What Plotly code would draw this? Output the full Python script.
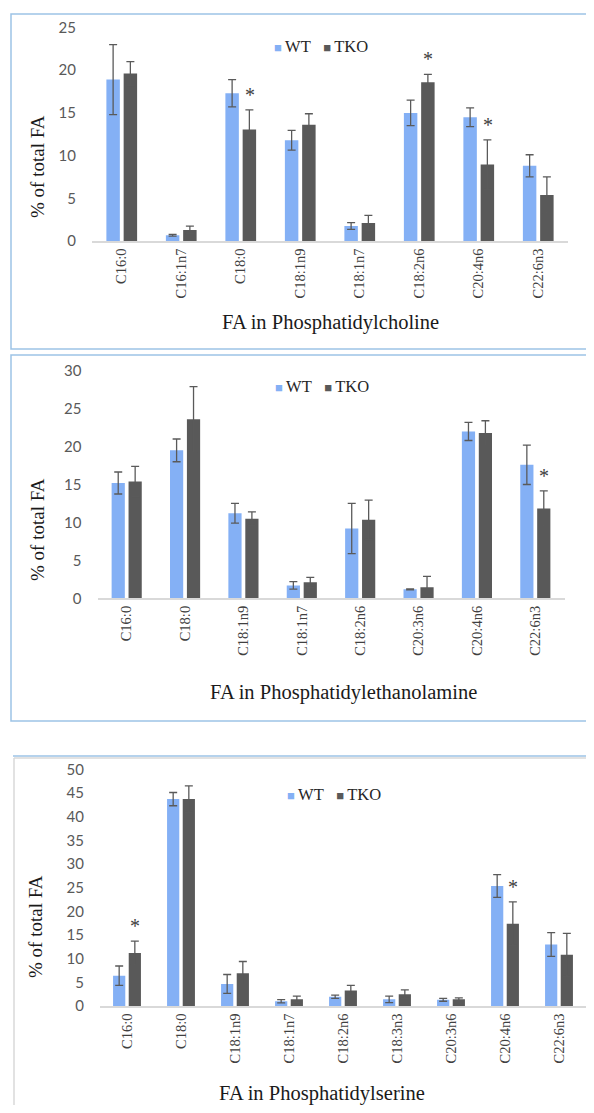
import plotly.graph_objects as go

# ---------------- data ----------------
pc_cats = ["C16:0", "C16:1n7", "C18:0", "C18:1n9", "C18:1n7", "C18:2n6", "C20:4n6", "C22:6n3"]
pc_wt = [18.9, 0.67, 17.3, 11.8, 1.75, 15.0, 14.5, 8.8]
pc_wt_err = [4.1, 0.1, 1.6, 1.15, 0.4, 1.5, 1.1, 1.3]
pc_tko = [19.6, 1.3, 13.05, 13.6, 2.1, 18.6, 8.95, 5.4]
pc_tko_err = [1.4, 0.45, 2.3, 1.3, 0.9, 0.9, 2.9, 2.1]
pc_sig = ["C18:0", "C18:2n6", "C20:4n6"]

pe_cats = ["C16:0", "C18:0", "C18:1n9", "C18:1n7", "C18:2n6", "C20:3n6", "C20:4n6", "C22:6n3"]
pe_wt = [15.2, 19.5, 11.2, 1.7, 9.2, 1.18, 22.0, 17.6]
pe_wt_err = [1.45, 1.5, 1.3, 0.5, 3.3, 0.05, 1.2, 2.6]
pe_tko = [15.4, 23.6, 10.5, 2.1, 10.35, 1.45, 21.8, 11.85]
pe_tko_err = [2.0, 4.3, 0.9, 0.65, 2.6, 1.45, 1.6, 2.3]
pe_sig = ["C22:6n3"]

ps_cats = ["C16:0", "C18:0", "C18:1n9", "C18:1n7", "C18:2n6", "C18:3n3", "C20:3n6", "C20:4n6", "C22:6n3"]
ps_wt = [6.4, 43.7, 4.65, 1.0, 1.95, 1.4, 1.3, 25.35, 13.0]
ps_wt_err = [2.05, 1.4, 2.0, 0.35, 0.35, 0.7, 0.3, 2.4, 2.5]
ps_tko = [11.2, 43.7, 6.9, 1.4, 3.25, 2.5, 1.4, 17.4, 10.8]
ps_tko_err = [2.5, 2.8, 2.5, 0.7, 1.1, 0.9, 0.3, 4.6, 4.55]
ps_sig = ["C16:0", "C20:4n6"]

y_ranges = [[0, 25], [0, 30], [0, 50]]
x_titles = ["FA in Phosphatidylcholine", "FA in Phosphatidylethanolamine", "FA in Phosphatidylserine"]
y_title = "% of total FA"
series_names = ["WT", "TKO"]

# ---------------- style ----------------
PAGE_W, PAGE_H = 594, 1113
BODY_MARGIN = 8  # default page margin around the plot div
W, H = PAGE_W - 2 * BODY_MARGIN, PAGE_H - 2 * BODY_MARGIN
WT_COLOR = "#84B0F5"
TKO_COLOR = "#595959"
ERR_COLOR = "#5a5a5a"
SERIF = "Liberation Serif, Times New Roman, serif"
SANS = "Lato, Carlito, Calibri, sans-serif"


def px_x(p):
    return (p - BODY_MARGIN) / W


def px_y(p):
    return 1 - (p - BODY_MARGIN) / H


panels = [
    dict(cats=pc_cats, wt=pc_wt, wte=pc_wt_err, tko=pc_tko, tkoe=pc_tko_err, sig=pc_sig,
         xd=[92, 568], yd=[241, 27.5], legend=(321, 47), xt=(330, 322), yt=(37, 167), off=8.75),
    dict(cats=pe_cats, wt=pe_wt, wte=pe_wt_err, tko=pe_tko, tkoe=pe_tko_err, sig=pe_sig,
         xd=[97.5, 564.5], yd=[598.3, 370.7], legend=(322, 386), xt=(343, 692), yt=(37, 530), off=8.5),
    dict(cats=ps_cats, wt=ps_wt, wte=ps_wt_err, tko=ps_tko, tkoe=ps_tko_err, sig=ps_sig,
         xd=[100, 586], yd=[1006, 769.3], legend=(334, 794), xt=(322, 1093), yt=(35, 927), off=7.5),
]

fig = go.Figure()
annotations = []
layout_axes = {}

for i, p in enumerate(panels):
    n = "" if i == 0 else str(i + 1)
    xa, ya = "x" + n, "y" + n
    for name, vals, errs, col in [(series_names[0], p["wt"], p["wte"], WT_COLOR),
                                  (series_names[1], p["tko"], p["tkoe"], TKO_COLOR)]:
        fig.add_trace(go.Bar(
            x=p["cats"], y=vals, name=name, marker=dict(color=col, line=dict(width=0)),
            error_y=dict(type="data", array=errs, visible=True, color=ERR_COLOR, thickness=1.3, width=4),
            xaxis=xa, yaxis=ya, showlegend=False,
        ))
    layout_axes["xaxis" + n] = dict(
        domain=[px_x(p["xd"][0]), px_x(p["xd"][1])], anchor=ya, automargin=False,
        type="category", categoryorder="array", categoryarray=p["cats"],
        showline=True, linecolor="#D9D9D9", linewidth=1.5, showgrid=False, zeroline=False,
        ticks="", tickangle=-90,
        tickfont=dict(family=SERIF, size=14.5, color="#404040"),
    )
    layout_axes["yaxis" + n] = dict(
        domain=[px_y(p["yd"][0]), px_y(p["yd"][1])], anchor=xa, automargin=False,
        range=y_ranges[i], dtick=5, showline=False, showgrid=False, zeroline=False,
        ticks="outside", ticklen=12, tickcolor="rgba(0,0,0,0)",
        tickfont=dict(family=SANS, size=15, color="#595959"),
    )
    # legend (text)
    lx, ly = p["legend"]
    annotations.append(dict(
        xref="paper", yref="paper", x=px_x(lx), y=px_y(ly), xanchor="center", yanchor="middle",
        showarrow=False,
        text=(f'<span style="color:{WT_COLOR};font-size:13px">■ </span>{series_names[0]}'
              f'&nbsp;&nbsp;&nbsp;<span style="color:{TKO_COLOR};font-size:13px">■ </span>{series_names[1]}'),
        font=dict(family=SERIF, size=16.5, color="#262626"),
    ))
    # x title
    tx, ty = p["xt"]
    annotations.append(dict(xref="paper", yref="paper", x=px_x(tx), y=px_y(ty), xanchor="center",
                            yanchor="middle", showarrow=False, text=x_titles[i],
                            font=dict(family=SERIF, size=20.5, color="#1a1a1a")))
    # y title
    yx, yy = p["yt"]
    annotations.append(dict(xref="paper", yref="paper", x=px_x(yx), y=px_y(yy), xanchor="center",
                            yanchor="middle", showarrow=False, text=y_title, textangle=-90,
                            font=dict(family=SERIF, size=19, color="#1a1a1a")))
    # significance stars above TKO bars
    for c in p["sig"]:
        k = p["cats"].index(c)
        annotations.append(dict(xref=xa, yref=ya, x=c, y=p["tko"][k] + p["tkoe"][k],
                                xshift=p["off"], yshift=2, xanchor="center", yanchor="bottom",
                                showarrow=False, text="*",
                                font=dict(family=SERIF, size=20, color="#404040")))

shapes = [
    dict(type="rect", xref="paper", yref="paper", x0=px_x(11), x1=px_x(592), y0=px_y(349), y1=px_y(14),
         line=dict(color="#9DC3E6", width=1.5), fillcolor="rgba(0,0,0,0)"),
    dict(type="rect", xref="paper", yref="paper", x0=px_x(11), x1=px_x(592), y0=px_y(721), y1=px_y(355),
         line=dict(color="#9DC3E6", width=1.5), fillcolor="rgba(0,0,0,0)"),
    dict(type="line", xref="paper", yref="paper", x0=px_x(14), x1=px_x(594), y0=px_y(758), y1=px_y(758),
         line=dict(color="#D9D9D9", width=1.5)),
    dict(type="line", xref="paper", yref="paper", x0=px_x(14), x1=px_x(14), y0=px_y(758), y1=px_y(1113),
         line=dict(color="#D9D9D9", width=1.5)),
    dict(type="line", xref="paper", yref="paper", x0=px_x(13), x1=px_x(594), y0=px_y(756), y1=px_y(756),
         line=dict(color="#9DC3E6", width=1.5)),
]

fig.update_layout(
    width=W, height=H, margin=dict(l=0, r=0, t=0, b=0, autoexpand=False),
    paper_bgcolor="white", plot_bgcolor="white",
    barmode="group", bargap=0.42, bargroupgap=0.22,
    showlegend=False, annotations=annotations, shapes=shapes,
    **layout_axes,
)

fig.write_html("out.html", config={"displayModeBar": False})
